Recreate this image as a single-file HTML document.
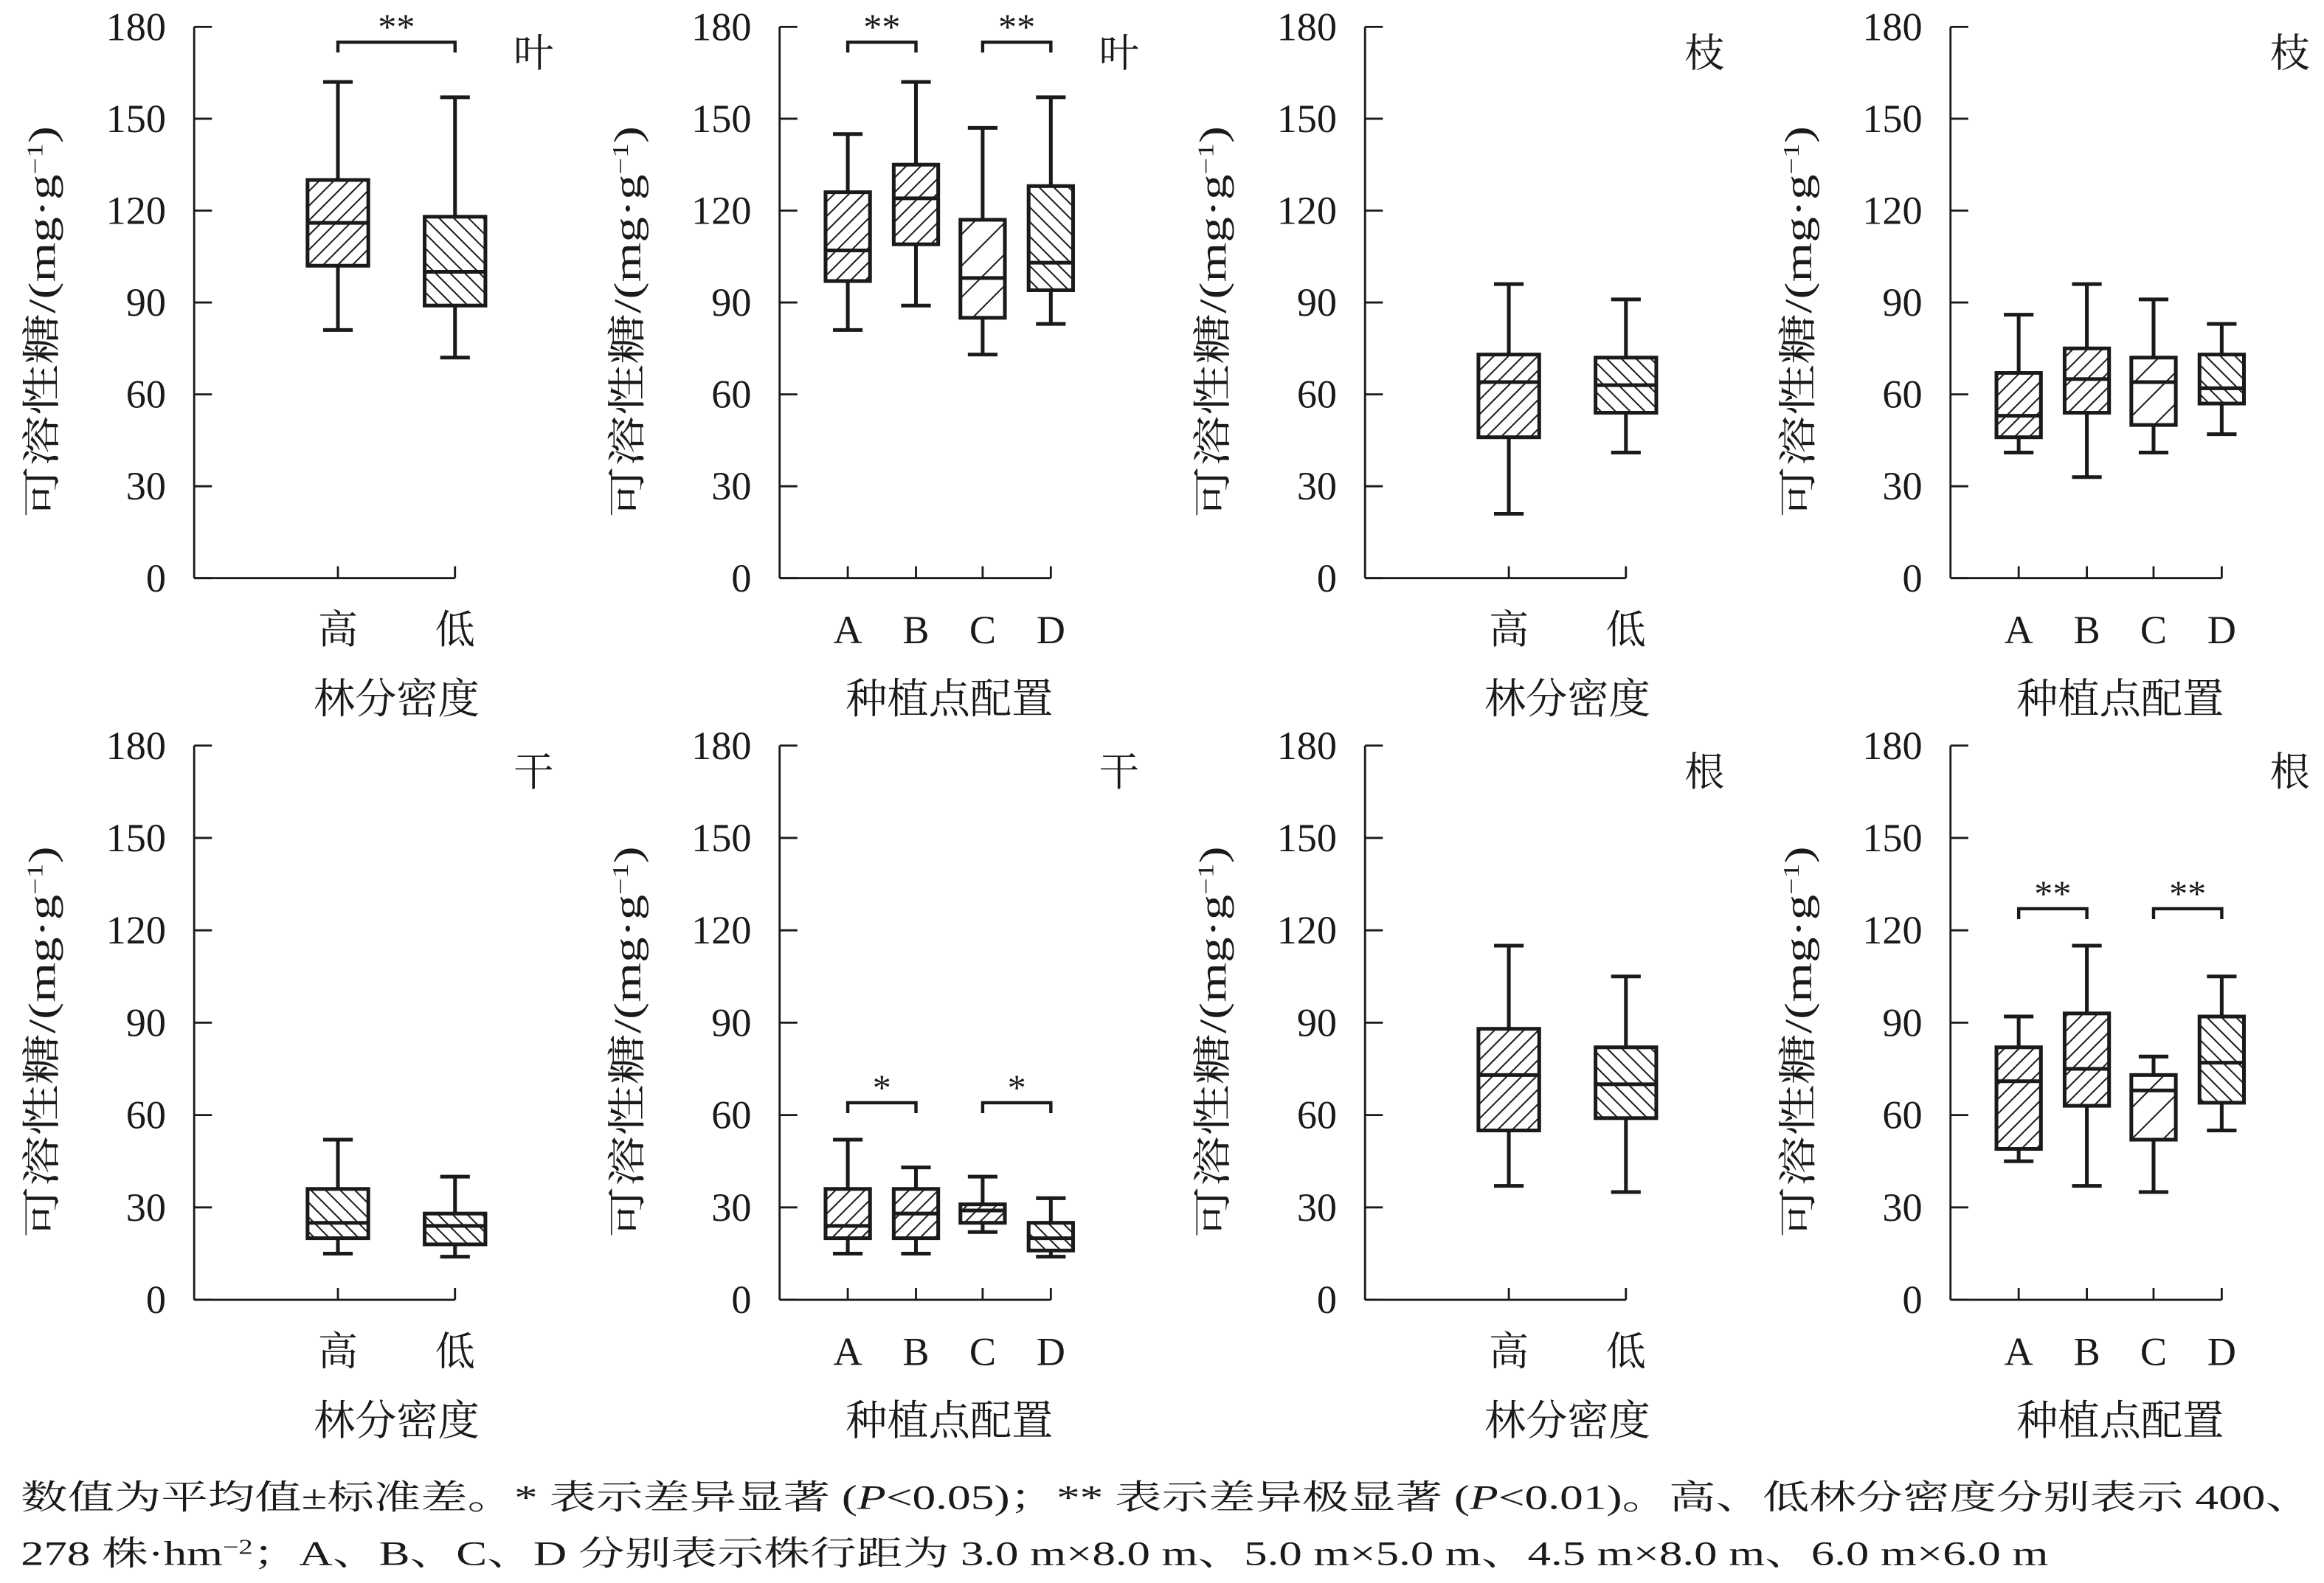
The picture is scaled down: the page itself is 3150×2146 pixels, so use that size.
<!DOCTYPE html>
<html><head><meta charset="utf-8"><style>
html,body{margin:0;padding:0;background:#fff;}
svg{display:block;}
text{font-family:"Liberation Serif","Noto Serif CJK SC","Noto Sans CJK SC",serif;fill:#1a1a1a;}
</style></head><body>
<svg id="fig" width="3150" height="2146" viewBox="0 0 1568 1068" xmlns="http://www.w3.org/2000/svg">
<defs>
<pattern id="hf" patternUnits="userSpaceOnUse" width="7" height="7" patternTransform="rotate(45)"><line x1="0" y1="0" x2="0" y2="7" stroke="#1a1a1a" stroke-width="2"/></pattern>
<pattern id="hb" patternUnits="userSpaceOnUse" width="7" height="7" patternTransform="rotate(-45)"><line x1="0" y1="0" x2="0" y2="7" stroke="#1a1a1a" stroke-width="2"/></pattern>
<pattern id="hs" patternUnits="userSpaceOnUse" width="15" height="15" patternTransform="rotate(45)"><line x1="0" y1="0" x2="0" y2="15" stroke="#1a1a1a" stroke-width="2"/></pattern>
</defs>
<g id="panels"></g>
<text x="14" y="1018" font-size="23" textLength="1546" lengthAdjust="spacingAndGlyphs">数值为平均值±标准差。* 表示差异显著 (<tspan font-style="italic">P</tspan>&lt;0.05)；** 表示差异极显著 (<tspan font-style="italic">P</tspan>&lt;0.01)。高、低林分密度分别表示 400、</text>
<text x="14" y="1056" font-size="23" textLength="1368" lengthAdjust="spacingAndGlyphs">278 株·hm<tspan baseline-shift="super" font-size="14">−2</tspan>；A、B、C、D 分别表示株行距为 3.0 m×8.0 m、5.0 m×5.0 m、4.5 m×8.0 m、6.0 m×6.0 m</text>
</svg>
<script>
// categories
const densityCats = ['高','低'];
const configCats = ['A','B','C','D'];
const yTicks = [0,30,60,90,120,150,180];
// series stats: [whiskerLow, q1, median, q3, whiskerHigh]
const leafDensity = [[81,102,116,130,162],[72,89,100,118,157]];
const leafConfig = [[81,97,107,126,145],[89,109,124,135,162],[73,85,98,117,147],[83,94,103,128,157]];
const branchDensity = [[21,46,64,73,96],[41,54,63,72,91]];
const branchConfig = [[41,46,53,67,86],[33,54,65,75,96],[41,50,64,72,91],[47,57,62,73,83]];
const stemDensity = [[15,20,25,36,52],[14,18,24,28,40]];
const stemConfig = [[15,20,24,36,52],[15,20,28,36,43],[22,25,29,31,40],[14,16,20,25,33]];
const rootDensity = [[37,55,73,88,115],[35,59,70,82,105]];
const rootConfig = [[45,49,71,82,92],[37,63,75,93,115],[35,52,68,73,79],[55,64,77,92,105]];
// significance brackets: [fromIndex, toIndex, value, label]
const leafDensitySig = [[0,1,175,'**']];
const leafConfigSig = [[0,1,175,'**'],[2,3,175,'**']];
const stemConfigSig = [[0,1,64,'*'],[2,3,64,'*']];
const rootConfigSig = [[0,1,127,'**'],[2,3,127,'**']];

const NS='http://www.w3.org/2000/svg';
const root=document.getElementById('panels');
function mk(tag,attrs,parent){const e=document.createElementNS(NS,tag);for(const k in attrs)e.setAttribute(k,attrs[k]);(parent||root).appendChild(e);return e;}

const panels=[
 {ax:131,top:18,bot:390,cats:densityCats,stats:leafDensity,hatch:['hf','hb'],sig:leafDensitySig,label:'叶',title:'林分密度',key:'leaf-density'},
 {ax:526,top:18,bot:390,cats:configCats,stats:leafConfig,hatch:['hf','hf','hs','hb'],sig:leafConfigSig,label:'叶',title:'种植点配置',key:'leaf-config'},
 {ax:921,top:18,bot:390,cats:densityCats,stats:branchDensity,hatch:['hf','hb'],sig:[],label:'枝',title:'林分密度',key:'branch-density'},
 {ax:1316,top:18,bot:390,cats:configCats,stats:branchConfig,hatch:['hf','hf','hs','hb'],sig:[],label:'枝',title:'种植点配置',key:'branch-config'},
 {ax:131,top:503,bot:877,cats:densityCats,stats:stemDensity,hatch:['hb','hb'],sig:[],label:'干',title:'林分密度',key:'stem-density'},
 {ax:526,top:503,bot:877,cats:configCats,stats:stemConfig,hatch:['hf','hf','hf','hb'],sig:stemConfigSig,label:'干',title:'种植点配置',key:'stem-config'},
 {ax:921,top:503,bot:877,cats:densityCats,stats:rootDensity,hatch:['hf','hb'],sig:[],label:'根',title:'林分密度',key:'root-density'},
 {ax:1316,top:503,bot:877,cats:configCats,stats:rootConfig,hatch:['hf','hf','hs','hb'],sig:rootConfigSig,label:'根',title:'种植点配置',key:'root-config'}
];

panels.forEach(p=>{
 const g=mk('g',{});
 
 
 const y=v=>p.bot-(v/180)*(p.bot-p.top);
 const dense=p.cats.length===2;
 const offs=dense?[97,176]:[46,92,137,183];
 const xs=offs.map(o=>p.ax+o);
 const bw=dense?41:30;
 const xEnd=xs[xs.length-1];
 const ya=mk('line',{x1:p.ax,y1:p.top,x2:p.ax,y2:p.bot,stroke:'#1a1a1a','stroke-width':1.4},g);
 
 
 const xa=mk('line',{x1:p.ax,y1:p.bot,x2:xEnd,y2:p.bot,stroke:'#1a1a1a','stroke-width':1.4},g);
 
 
 yTicks.forEach(t=>{
  mk('line',{x1:p.ax,y1:y(t),x2:p.ax+12,y2:y(t),stroke:'#1a1a1a','stroke-width':1.4},g);
  const tl=mk('text',{x:p.ax-19,y:y(t)+9,'font-size':27,'text-anchor':'end'},g);
  tl.textContent=t;
  
  
 });
 const yc=(p.top+p.bot)/2+13;
 const yt=mk('text',{x:0,y:0,'font-size':26,'text-anchor':'middle',transform:`translate(${p.ax-94},${yc}) rotate(-90)`,textLength:264,lengthAdjust:'spacingAndGlyphs'},g);
 yt.innerHTML='可溶性糖/(mg·g<tspan baseline-shift="super" font-size="15">−1</tspan>)';
 
 
 p.cats.forEach((c,i)=>{
  const x=xs[i];
  mk('line',{x1:x,y1:p.bot,x2:x,y2:p.bot-8,stroke:'#1a1a1a','stroke-width':1.4},g);
  const cl=mk('text',{x:x,y:p.bot+44,'font-size':27,'text-anchor':'middle'},g);
  cl.textContent=c;
  
  
  const s=p.stats[i];
  const bg=mk('g',{},g);
  
  
  const sw=2.5;
  mk('line',{x1:x,y1:y(s[0]),x2:x,y2:y(s[1]),stroke:'#1a1a1a','stroke-width':sw},bg);
  mk('line',{x1:x,y1:y(s[3]),x2:x,y2:y(s[4]),stroke:'#1a1a1a','stroke-width':sw},bg);
  mk('line',{x1:x-10,y1:y(s[0]),x2:x+10,y2:y(s[0]),stroke:'#1a1a1a','stroke-width':sw},bg);
  mk('line',{x1:x-10,y1:y(s[4]),x2:x+10,y2:y(s[4]),stroke:'#1a1a1a','stroke-width':sw},bg);
  mk('rect',{x:x-bw/2,y:y(s[3]),width:bw,height:y(s[1])-y(s[3]),fill:'#fff'},bg);
  mk('rect',{x:x-bw/2,y:y(s[3]),width:bw,height:y(s[1])-y(s[3]),fill:`url(#${p.hatch[i]})`,stroke:'#1a1a1a','stroke-width':sw},bg);
  mk('line',{x1:x-bw/2,y1:y(s[2]),x2:x+bw/2,y2:y(s[2]),stroke:'#1a1a1a','stroke-width':sw},bg);
 });
 p.sig.forEach(sg=>{
  const x1=xs[sg[0]],x2=xs[sg[1]],yy=y(sg[2]);
  const sgG=mk('g',{},g);
  
  
  mk('path',{d:`M${x1},${yy+7} V${yy} H${x2} V${yy+7}`,fill:'none',stroke:'#1a1a1a','stroke-width':2.2},sgG);
  const st=mk('text',{x:(x1+x2)/2,y:yy-2,'font-size':25,'text-anchor':'middle'},sgG);
  st.textContent=sg[3];
 });
 const pl=mk('text',{x:p.ax+229,y:p.top+27,'font-size':27,'text-anchor':'middle'},g);
 pl.textContent=p.label;
 
 
 const xt=mk('text',{x:(xs[0]+xEnd)/2,y:p.bot+91,'font-size':28,'text-anchor':'middle'},g);
 xt.textContent=p.title;
 
 
});
</script>
</body></html>
